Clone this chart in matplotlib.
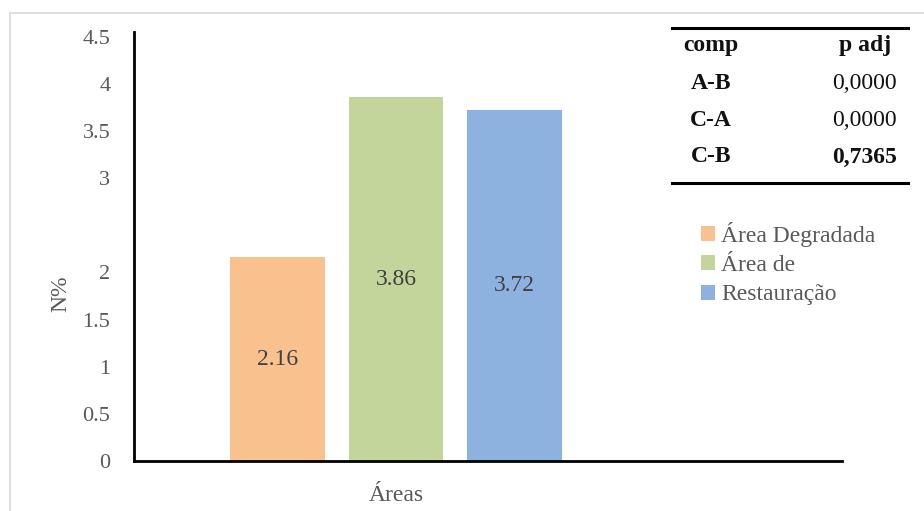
import matplotlib
matplotlib.use("Agg")
import matplotlib.pyplot as plt
from matplotlib.patches import Rectangle
from matplotlib.lines import Line2D

# Data
areas = ["Área Degradada", "Área de", "Restauração"]
n_values = [2.16, 3.86, 3.72]
bar_colors = ["#F8C18E", "#C4D59B", "#8EB2E0"]
ytick_values = [0, 0.5, 1, 1.5, 2, 3, 3.5, 4, 4.5]
ytick_labels = ["0", "0.5", "1", "1.5", "2", "3", "3.5", "4", "4.5"]
table_header = ["comp", "p adj"]
table_comp = ["A-B", "C-A", "C-B"]
table_padj = ["0,0000", "0,0000", "0,7365"]
table_bold = [False, False, True]

plt.rcParams["font.family"] = ["Liberation Serif", "DejaVu Serif"]
TEXT = "#595959"

fig = plt.figure(figsize=(9.24, 5.11), dpi=100)
W, H = 924, 511

def fx(px):
    return px / W

def fy(py):
    return 1 - py / H

# light outer frame
fig.patches.append(Rectangle((fx(10), fy(600)), fx(1000), fy(13) - fy(600),
                             transform=fig.transFigure, fill=False,
                             edgecolor="#D9D9D9", linewidth=1.2))

ax = fig.add_axes([fx(134), fy(461), fx(842) - fx(134), fy(32) - fy(461)])
xpos = list(range(len(n_values)))
bars = ax.bar(xpos, n_values, width=0.80, color=bar_colors, zorder=2)
for b, v in zip(bars, n_values):
    ax.text(b.get_x() + b.get_width() / 2, v / 2, f"{v:.2f}",
            ha="center", va="center", fontsize=17, color="#404040")

ax.set_xlim(-1.211, 4.764)
ax.set_ylim(0, 4.55)
ax.set_yticks(ytick_values)
ax.set_yticklabels(ytick_labels, fontsize=16, color=TEXT)
ax.set_xticks([])
ax.tick_params(axis="y", length=0, pad=17)
for s in ("top", "right"):
    ax.spines[s].set_visible(False)
for s in ("left", "bottom"):
    ax.spines[s].set_linewidth(2)
    ax.spines[s].set_color("black")

ax.set_ylabel("N%", fontsize=17, color=TEXT)
ax.yaxis.set_label_coords(-0.089, 0.39)
ax.set_xlabel("Áreas", fontsize=17, color=TEXT)
ax.xaxis.set_label_coords(0.371, -0.055)

leg = ax.legend(bars, areas, loc="upper left",
                bbox_to_anchor=(fx(689), fy(210)), bbox_transform=fig.transFigure,
                frameon=False, fontsize=17, handlelength=0.6, handleheight=0.6,
                handletextpad=0.25, labelspacing=0.35, borderpad=0)
for t in leg.get_texts():
    t.set_color(TEXT)

# comparison table
fig.add_artist(Line2D([fx(672), fx(908)], [fy(28), fy(28)], color="black", lw=2.2,
                      transform=fig.transFigure))
fig.add_artist(Line2D([fx(672), fx(908)], [fy(183), fy(183)], color="black", lw=2.2,
                      transform=fig.transFigure))
fig.text(fx(711), fy(46), table_header[0], ha="center", va="center",
         fontsize=17, fontweight="bold", color="#111111")
fig.text(fx(891), fy(46), table_header[1], ha="right", va="center",
         fontsize=17, fontweight="bold", color="#111111")
row_y = [83, 120, 157]
for yy, c, p, bold in zip(row_y, table_comp, table_padj, table_bold):
    fig.text(fx(711), fy(yy), c, ha="center", va="center",
             fontsize=17, fontweight="bold", color="#111111")
    fig.text(fx(897), fy(yy), p, ha="right", va="center",
             fontsize=17, fontweight="bold" if bold else "normal", color="#111111")

fig.savefig("out.png", dpi=100)
